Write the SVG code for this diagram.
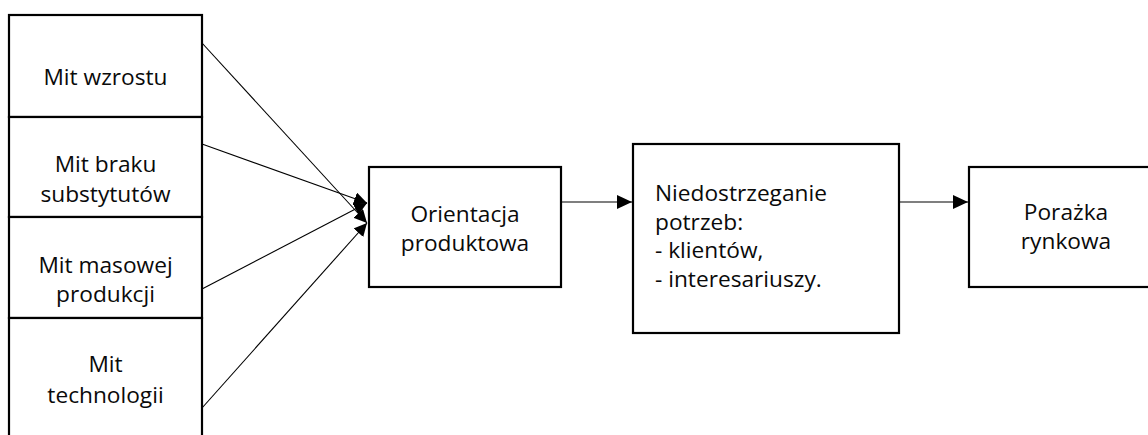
<svg xmlns="http://www.w3.org/2000/svg" width="1148" height="435" viewBox="0 0 1148 435">
<style>
  .box { fill: #fff; stroke: #000; stroke-width: 2.2; }
  .lbl { font-family: "Open Sans", "Noto Sans", "Liberation Sans", sans-serif; font-size: 22.7px; fill: #0a0a0a; }
  .mid { text-anchor: middle; }
  .conn { stroke: #000; stroke-width: 1.1; fill: none; }
</style>
<defs>
  <marker id="arrBig" markerUnits="userSpaceOnUse" markerWidth="16" markerHeight="14" refX="15" refY="7" orient="auto">
    <path d="M0,0 L15,7 L0,14 Z" fill="#000"/>
  </marker>
  <marker id="arrSmall" markerUnits="userSpaceOnUse" markerWidth="14" markerHeight="13" refX="13" refY="6.5" orient="auto">
    <path d="M0,0 L13,6.5 L0,13 Z" fill="#000"/>
  </marker>
</defs>

<g id="connectors">
  <line class="conn" x1="202" y1="43" x2="367" y2="223" marker-end="url(#arrSmall)"/>
  <line class="conn" x1="202" y1="144" x2="367" y2="203" marker-end="url(#arrSmall)"/>
  <line class="conn" x1="202" y1="289" x2="367" y2="203" marker-end="url(#arrSmall)"/>
  <line class="conn" x1="202" y1="408" x2="367" y2="223" marker-end="url(#arrSmall)"/>
  <line class="conn" x1="561" y1="202" x2="632" y2="202" marker-end="url(#arrBig)"/>
  <line class="conn" x1="899" y1="202" x2="968" y2="202" marker-end="url(#arrBig)"/>
</g>

<g id="node-mit-wzrostu">
  <rect class="box" x="9" y="15" width="193" height="102"/>
  <text class="lbl mid" x="105.5" y="85">Mit wzrostu</text>
</g>
<g id="node-mit-braku">
  <rect class="box" x="9" y="117" width="193" height="100"/>
  <text class="lbl mid" x="105.5" y="172">Mit braku</text>
  <text class="lbl mid" x="105.5" y="202">substytutów</text>
</g>
<g id="node-mit-masowej">
  <rect class="box" x="9" y="217" width="193" height="101"/>
  <text class="lbl mid" x="105.5" y="273">Mit masowej</text>
  <text class="lbl mid" x="105.5" y="302">produkcji</text>
</g>
<g id="node-mit-technologii">
  <rect class="box" x="9" y="318" width="193" height="130"/>
  <text class="lbl mid" x="105.5" y="372">Mit</text>
  <text class="lbl mid" x="105.5" y="403">technologii</text>
</g>

<g id="node-orientacja">
  <rect class="box" x="369" y="167" width="192" height="120"/>
  <text class="lbl mid" x="465" y="222">Orientacja</text>
  <text class="lbl mid" x="465" y="251">produktowa</text>
</g>

<g id="node-niedostrzeganie">
  <rect class="box" x="633" y="144" width="266" height="189"/>
  <text class="lbl" x="655" y="201">Niedostrzeganie</text>
  <text class="lbl" x="655" y="230">potrzeb:</text>
  <text class="lbl" x="655" y="258">- klientów,</text>
  <text class="lbl" x="655" y="287">- interesariuszy.</text>
</g>

<g id="node-porazka">
  <rect class="box" x="969" y="167" width="194" height="120"/>
  <text class="lbl mid" x="1066" y="220">Porażka</text>
  <text class="lbl mid" x="1066" y="249">rynkowa</text>
</g>
</svg>
